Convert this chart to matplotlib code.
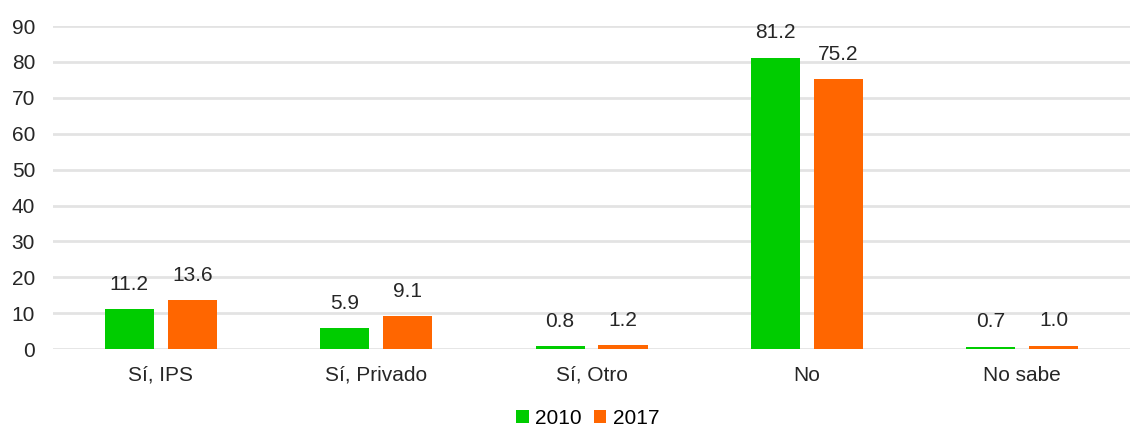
import matplotlib
matplotlib.use("Agg")
import matplotlib.pyplot as plt
import numpy as np

categories = ["Sí, IPS", "Sí, Privado", "Sí, Otro", "No", "No sabe"]
years = ["2010", "2017"]
values_2010 = [11.2, 5.9, 0.8, 81.2, 0.7]
values_2017 = [13.6, 9.1, 1.2, 75.2, 1.0]
yticks = [0, 10, 20, 30, 40, 50, 60, 70, 80, 90]

colors = ["#00CC00", "#FF6600"]
plt.rcParams['font.family'] = ['Liberation Sans', 'DejaVu Sans']
FS = 15

fig = plt.figure(figsize=(11.3, 4.3), dpi=100)
ax = fig.add_axes([0.047, 0.188, 0.953, 0.7515])

x = np.arange(len(categories))
w = 0.228
off = 0.146
for vals, c, lab, sgn in [(values_2010, colors[0], years[0], -1), (values_2017, colors[1], years[1], 1)]:
    bars = ax.bar(x + sgn * off, vals, width=w, color=c, label=lab, zorder=3)
    for b, v in zip(bars, vals):
        ax.annotate(f"{v:.1f}", (b.get_x() + b.get_width() / 2, v), xytext=(0, 11),
                    textcoords="offset points", ha="center", va="bottom",
                    fontsize=FS, color="#262626")

ax.set_xlim(-0.5, len(categories) - 0.5)
ax.set_ylim(0, 90)
ax.set_yticks(yticks)
ax.set_xticks(x)
ax.set_xticklabels(categories)
ax.tick_params(axis="both", length=0, labelsize=FS, colors="#262626")
ax.tick_params(axis="y", pad=13)
ax.tick_params(axis="x", pad=12)
ax.yaxis.grid(True, color="#e3e3e3", linewidth=2, zorder=0)
ax.set_axisbelow(True)
for s in ax.spines.values():
    s.set_visible(False)

fig.legend(loc="lower center", bbox_to_anchor=(0.520, 0.0), ncol=2, frameon=False,
           fontsize=FS, handlelength=0.6, handleheight=0.6, handletextpad=0.3,
           columnspacing=0.6, borderaxespad=0.0, borderpad=0.1)
fig.savefig("out.png", dpi=100)
